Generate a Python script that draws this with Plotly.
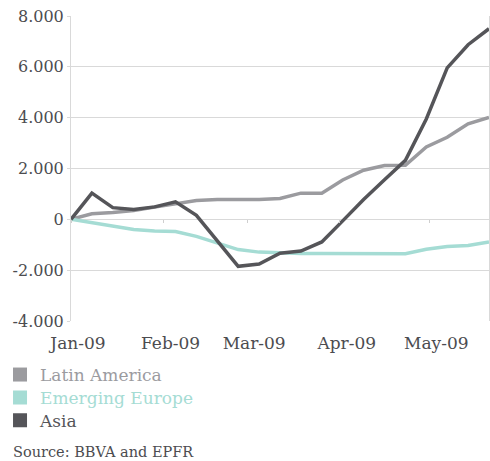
import plotly.graph_objects as go

# weekly fund flows, cumulative since 1 Jan 2009 (USD mn)
weeks = [
    "2009-01-01", "2009-01-08", "2009-01-15", "2009-01-22", "2009-01-29",
    "2009-02-05", "2009-02-12", "2009-02-19", "2009-02-26", "2009-03-05",
    "2009-03-12", "2009-03-19", "2009-03-26", "2009-04-02", "2009-04-09",
    "2009-04-16", "2009-04-23", "2009-04-30", "2009-05-07", "2009-05-14",
    "2009-05-21",
]
latin_america = [0, 220, 270, 350, 480, 610, 740, 780, 780, 780, 820,
                 1030, 1030, 1550, 1930, 2120, 2130, 2850, 3230, 3760, 4010]
emerging_europe = [0, -140, -260, -400, -460, -480, -670, -930, -1190, -1290,
                   -1320, -1340, -1340, -1350, -1350, -1350, -1350, -1180,
                   -1070, -1030, -890]
asia = [0, 1030, 460, 390, 490, 690, 160, -830, -1850, -1760, -1330, -1250,
        -890, -60, 780, 1560, 2320, 3950, 5960, 6870, 7500]

month_ticks = ["2009-01-01", "2009-02-01", "2009-03-01", "2009-04-01",
               "2009-05-01"]
month_labels = ["Jan-09", "Feb-09", "Mar-09", "Apr-09", "May-09"]
y_ticks = [-4000, -2000, 0, 2000, 4000, 6000, 8000]
y_labels = ["-4.000", "-2.000", "0", "2.000", "4.000", "6.000", "8.000"]

GRID = "#d9d9d9"
TEXT = "#4c4c50"
FONT = "DejaVu Serif"
series = [
    ("Latin America", latin_america, "#9b9b9f", "x"),
    ("Emerging Europe", emerging_europe, "#a5dcd4", "x"),
    ("Asia", asia, "#555559", "x2"),
]
# one single-entry legend per series so the rows sit as tight as the original
legend_ids = ["legend", "legend2", "legend3"]
legend_rows = [-0.177, -0.252, -0.327]  # paper y of each row centre

fig = go.Figure()
for name, values, colour, xref in series:
  fig.add_trace(
      go.Scatter(x=weeks, y=values, mode="lines", xaxis=xref,
                 line=dict(color=colour, width=3.5), showlegend=False,
                 hoverinfo="skip"))
for (name, values, colour, xref), lid in zip(series, legend_ids):
  fig.add_trace(
      go.Scatter(x=[None], y=[None], mode="markers", legend=lid,
                 marker=dict(symbol="square", size=14, color=colour),
                 name="<span style='color:%s'>%s</span>" % (colour, name)))

x_range = [weeks[0], weeks[-1]]
fig.update_layout(
    width=490,
    height=461,
    margin=dict(l=70, r=1, t=16, b=140),
    paper_bgcolor="white",
    plot_bgcolor="white",
    font=dict(family=FONT, color=TEXT, size=16),
    xaxis=dict(type="date", range=x_range, tickvals=month_ticks,
               ticktext=month_labels, showgrid=False, zeroline=False,
               showline=False, ticks="", ticklabelshift=7,
               ticklabelstandoff=10, tickfont=dict(size=17), tickangle=0),
    # short tick marks sitting on the zero line
    xaxis2=dict(type="date", range=x_range, overlaying="x", anchor="free",
                position=1 / 3, tickvals=month_ticks, showticklabels=False,
                ticks="outside", ticklen=3, tickcolor="#cfcfcf",
                showgrid=False, zeroline=False, showline=False),
    yaxis=dict(range=[-4000, 8000], tickvals=y_ticks, ticktext=y_labels,
               showgrid=True, gridcolor=GRID, gridwidth=1, zeroline=False,
               showline=True, linecolor=GRID, linewidth=1, mirror=True,
               ticks="outside", ticklen=3, tickcolor=GRID,
               tickfont=dict(size=16)),
    showlegend=True,
)
for lid, row in zip(legend_ids, legend_rows):
  fig.update_layout({
      lid: dict(x=-0.167, xanchor="left", y=row, yanchor="middle",
                font=dict(size=17), itemclick=False,
                bgcolor="rgba(0,0,0,0)")
  })
fig.add_annotation(text="Source: BBVA and EPFR", xref="paper", yref="paper",
                   x=-0.143, xanchor="left", y=-0.43, yanchor="middle",
                   showarrow=False, font=dict(size=14.5, color=TEXT))

fig.write_html("out.html", config=dict(displayModeBar=False),
               post_script="document.body.style.margin='0';")
